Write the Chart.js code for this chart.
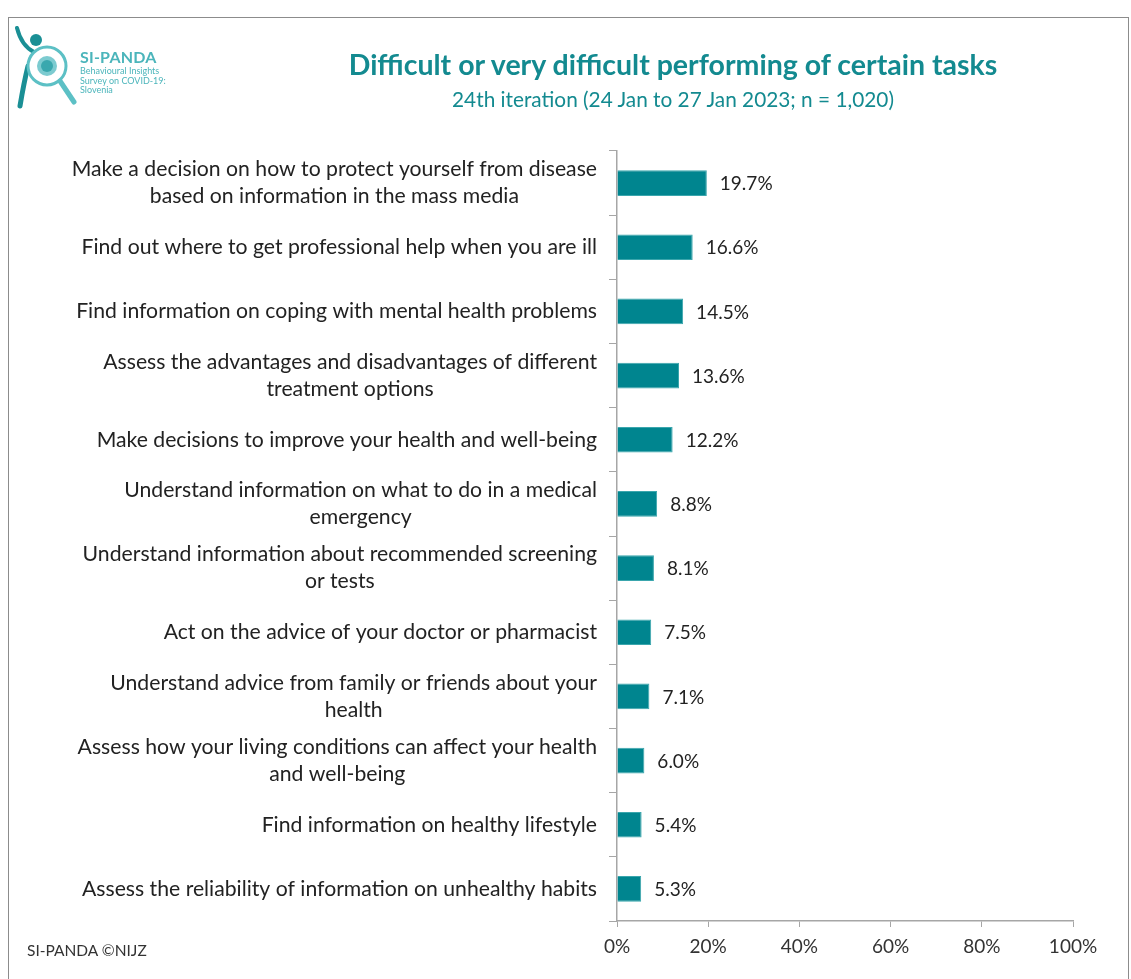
<!DOCTYPE html>
<html><head><meta charset="utf-8">
<script src="https://cdn.jsdelivr.net/npm/chart.js@4.4.1/dist/chart.umd.min.js"></script>
<style>
html,body{margin:0;padding:0;background:#fff;width:1131px;height:979px;overflow:hidden;font-family:Lato,"Open Sans",sans-serif;}
#wrap{position:relative;width:1131px;height:979px;}
#frame{position:absolute;left:8px;top:17px;width:1121px;height:980px;border:1.5px solid #8c8c8c;box-sizing:border-box;}
canvas{position:absolute;left:0;top:0;}
.t{position:absolute;white-space:nowrap;}
#title{left:0;width:1346px;text-align:center;top:47px;font-size:28.5px;font-weight:bold;color:#138a90;}
#sub{left:0;width:1346px;text-align:center;top:86px;font-size:20.8px;color:#138a90;}
#foot{left:27px;top:941px;font-size:15.5px;color:#333;}
#logo1{left:80px;top:47px;font-size:16px;font-weight:bold;color:#4bb5bb;letter-spacing:0.2px;}
#logo2{left:80px;top:66px;font-size:9px;line-height:9.5px;color:#4bb5bb;}
</style></head>
<body><div id="wrap">
<div id="frame"></div>
<canvas id="c" width="1131" height="979"></canvas>
<svg class="t" style="left:14px;top:26px" width="64" height="84" viewBox="0 0 64 84">
  <path d="M3 2 C6 14 12 22 20 26" stroke="#1a8f95" stroke-width="4" fill="none" stroke-linecap="round"/>
  <circle cx="22" cy="14" r="6" fill="#1a8f95"/>
  <path d="M14 40 C10 56 8 68 6 80" stroke="#1a8f95" stroke-width="5" fill="none" stroke-linecap="round"/>
  <circle cx="33" cy="40" r="19" stroke="#5cc0c5" stroke-width="3" fill="#fff"/>
  <circle cx="33" cy="40" r="10" fill="#7ccbd0"/>
  <circle cx="33" cy="40" r="6" fill="#3aa8ae"/>
  <line x1="46" y1="55" x2="60" y2="76" stroke="#5cc0c5" stroke-width="5" stroke-linecap="round"/>
</svg>
<div class="t" id="logo1">SI-PANDA</div>
<div class="t" id="logo2">Behavioural Insights<br>Survey on COVID-19:<br>Slovenia</div>
<div class="t" id="title">Difficult or very difficult performing of certain tasks</div>
<div class="t" id="sub">24th iteration (24 Jan to 27 Jan 2023; n = 1,020)</div>
<div class="t" id="foot">SI-PANDA ©NIJZ</div>
</div>
<script>
const categories = [
  ["Make a decision on how to protect yourself from disease", "based on information in the mass media"],
  "Find out where to get professional help when you are ill",
  "Find information on coping with mental health problems",
  ["Assess the advantages and disadvantages of different", "treatment options"],
  "Make decisions to improve your health and well-being",
  ["Understand information on what to do in a medical", "emergency"],
  ["Understand information about recommended screening", "or tests"],
  "Act on the advice of your doctor or pharmacist",
  ["Understand advice from family or friends about your", "health"],
  ["Assess how your living conditions can affect your health", "and well-being"],
  "Find information on healthy lifestyle",
  "Assess the reliability of information on unhealthy habits"
];
const values = [19.7, 16.6, 14.5, 13.6, 12.2, 8.8, 8.1, 7.5, 7.1, 6.0, 5.4, 5.3];
const xTicks = [0, 20, 40, 60, 80, 100];

const FONT = "Lato, 'Open Sans', sans-serif";
const CAT_FONT = "21.2px " + FONT;
const LINE_H = 27;
const LABEL_RIGHT = 597;

const labelPlugin = {
  id: 'vals',
  afterDatasetsDraw(chart) {
    const ctx = chart.ctx;
    const meta = chart.getDatasetMeta(0);
    const ys = chart.scales.y;
    ctx.save();
    // value labels
    ctx.font = "19px " + FONT;
    ctx.fillStyle = "#222";
    ctx.textBaseline = "middle";
    ctx.textAlign = "left";
    meta.data.forEach((bar, i) => {
      ctx.fillText(values[i].toFixed(1) + "%", bar.x + 13, bar.y + 1);
    });
    // category labels: block right-aligned, lines centered within block
    ctx.font = CAT_FONT;
    ctx.textAlign = "center";
    categories.forEach((c, i) => {
      const lines = Array.isArray(c) ? c : [c];
      const maxW = Math.max(...lines.map(l => ctx.measureText(l).width));
      const cx = LABEL_RIGHT - maxW / 2;
      const yc = ys.getPixelForValue(i);
      const y0 = yc - (lines.length - 1) * LINE_H / 2;
      lines.forEach((l, k) => ctx.fillText(l, cx, y0 + k * LINE_H));
    });
    ctx.restore();
  }
};

new Chart(document.getElementById('c'), {
  type: 'bar',
  data: {
    labels: categories,
    datasets: [{
      data: values,
      backgroundColor: '#00858f',
      borderColor: '#3aa6ad',
      borderWidth: 1,
      barPercentage: 0.8,
      categoryPercentage: 0.5
    }]
  },
  options: {
    indexAxis: 'y',
    responsive: false,
    animation: false,
    layout: { padding: { top: 151, right: 58, left: 0, bottom: 0 } },
    plugins: { legend: { display: false }, tooltip: { enabled: false } },
    scales: {
      x: {
        min: 0, max: 100,
        afterBuildTicks(s) { s.ticks = xTicks.map(v => ({ value: v })); },
        afterFit(s) { s.height = 58; },
        grid: { drawOnChartArea: false, drawTicks: true, tickLength: 6, color: '#a6a6a6' },
        border: { color: '#a6a6a6', width: 1.5 },
        ticks: { padding: 8, font: { size: 19, family: FONT }, color: '#333', callback: v => v + '%' }
      },
      y: {
        afterFit(s) { s.width = 617; },
        grid: { drawOnChartArea: false, drawTicks: true, tickLength: 8, offset: true, color: '#a6a6a6' },
        border: { color: '#a6a6a6', width: 1.5 },
        ticks: { display: false }
      }
    }
  },
  plugins: [labelPlugin]
});
</script>
</body></html>
